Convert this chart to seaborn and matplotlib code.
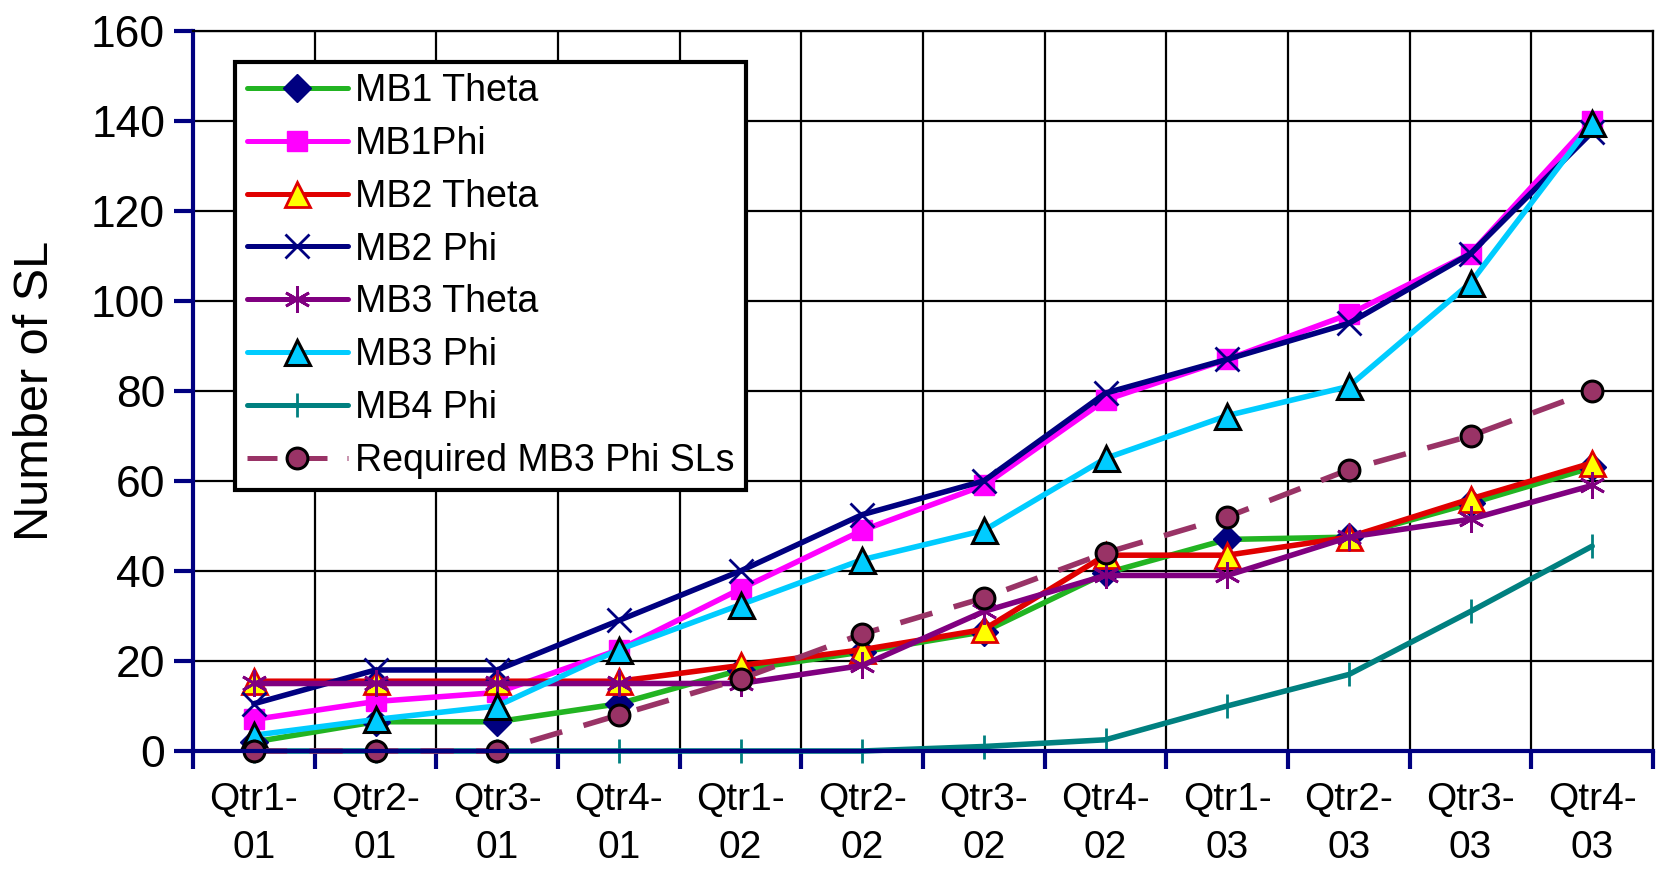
import pandas as pd
import matplotlib.pyplot as plt
import seaborn as sns
from matplotlib.ticker import FixedLocator

# quarters on the x axis
quarters = ['Qtr1-\n01', 'Qtr2-\n01', 'Qtr3-\n01', 'Qtr4-\n01',
            'Qtr1-\n02', 'Qtr2-\n02', 'Qtr3-\n02', 'Qtr4-\n02',
            'Qtr1-\n03', 'Qtr2-\n03', 'Qtr3-\n03', 'Qtr4-\n03']

mb1_theta = [2, 6.5, 6.5, 10.5, 18, 22, 26.5, 39.5, 47, 47.5, 55, 63]
mb1_phi = [7, 11, 13, 22.5, 36, 49, 59, 78, 87, 97, 110.5, 140]
mb2_theta = [15.5, 15.5, 15.5, 15.5, 19, 22.5, 27, 43.5, 43.5, 47.5, 56, 64]
mb2_phi = [10.5, 18, 18, 29, 40, 52.5, 60, 79.5, 87, 95, 110.5, 137.5]
mb3_theta = [15, 15, 15, 15, 15, 19, 31, 39, 39, 47.5, 51.5, 59]
mb3_phi = [3.5, 7, 10, 22.5, 32.5, 42.5, 49, 65, 74.5, 81, 104, 139.5]
mb4_phi = [0, 0, 0, 0, 0, 0, 1, 2.5, 10, 17, 31, 45.5]
required_mb3_phi = [0, 0, 0, 8, 16, 26, 34, 44, 52, 62.5, 70, 80]

series_names = ['MB1 Theta', 'MB1Phi', 'MB2 Theta', 'MB2 Phi',
                'MB3 Theta', 'MB3 Phi', 'MB4 Phi', 'Required MB3 Phi SLs']
series_values = [mb1_theta, mb1_phi, mb2_theta, mb2_phi,
                 mb3_theta, mb3_phi, mb4_phi, required_mb3_phi]

rows = []
for name, vals in zip(series_names, series_values):
    for q, v in zip(quarters, vals):
        rows.append({'Quarter': q, 'Series': name, 'SL': v})
df = pd.DataFrame(rows)

# line / marker style per series
styles = {
    'MB1 Theta': dict(color='#22B422', marker='D', markersize=14, mfc='#000080', mec='#000080'),
    'MB1Phi': dict(color='#FF00FF', marker='s', markersize=15, mfc='#FF00FF', mec='#FF00FF'),
    'MB2 Theta': dict(color='#E00000', marker='^', markersize=18, mfc='#FFFF00', mec='#E00000', mew=2),
    'MB2 Phi': dict(color='#000080', marker='x', markersize=17, mfc='#000080', mec='#000080', mew=2),
    'MB3 Theta': dict(color='#800080', marker=(6, 2, 0), markersize=19, mfc='#800080', mec='#800080', mew=2),
    'MB3 Phi': dict(color='#00CCFF', marker='^', markersize=18, mfc='#00CCFF', mec='black', mew=2.2),
    'MB4 Phi': dict(color='#008080', marker='|', markersize=17, mfc='#008080', mec='#008080', mew=2),
    'Required MB3 Phi SLs': dict(color='#993366', marker='o', markersize=15, mfc='#993366', mec='black', mew=2.2),
}

sns.set_style('white')
plt.rcParams['font.family'] = ['Liberation Sans', 'DejaVu Sans']
plt.rcParams['text.color'] = 'black'
plt.rcParams['axes.labelcolor'] = 'black'
plt.rcParams['xtick.labelcolor'] = 'black'
plt.rcParams['ytick.labelcolor'] = 'black'

fig = plt.figure(figsize=(16.64, 8.75), dpi=100)
ax = fig.add_axes([0.116, 0.1417, 0.8774, 0.8232])

for name in series_names:
    sub = df[df['Series'] == name]
    st = styles[name]
    sns.lineplot(data=sub, x='Quarter', y='SL', ax=ax, label=name,
                 color=st['color'], marker=st['marker'],
                 markersize=st['markersize'], markerfacecolor=st['mfc'],
                 markeredgecolor=st['mec'], markeredgewidth=st.get('mew', 1),
                 sort=False, clip_on=False)
    ln = ax.lines[-1]
    ln.set_linewidth(4)
    if name == 'Required MB3 Phi SLs':
        ln.set_dashes((6, 4))

ax.set_xlim(-0.5, 11.5)
ax.set_ylim(0, 160)
ax.set_yticks(range(0, 161, 20))
ax.tick_params(axis='y', labelsize=32, colors='#000080', labelcolor='black',
               direction='out', length=14, width=3, left=True, pad=6)
ax.xaxis.set_major_locator(FixedLocator(range(12)))
ax.set_xticks(range(12))
ax.set_xticklabels(quarters)
ax.xaxis.set_minor_locator(FixedLocator([i - 0.5 for i in range(13)]))
ax.tick_params(axis='x', which='major', length=0, labelsize=28, pad=22)
ax.tick_params(axis='x', which='minor', length=13, width=3, color='#000080', bottom=True)
for lbl in ax.get_xticklabels():
    lbl.set_linespacing(1.45)

ax.grid(True, axis='y', which='major', color='black', linewidth=1.6)
ax.grid(True, axis='x', which='minor', color='black', linewidth=1.6)
ax.grid(False, axis='x', which='major')
ax.set_axisbelow(True)

ax.spines['left'].set_color('#000080')
ax.spines['left'].set_linewidth(3)
ax.spines['bottom'].set_color('#000080')
ax.spines['bottom'].set_linewidth(3)
ax.spines['top'].set_color('black')
ax.spines['top'].set_linewidth(1.6)
ax.spines['right'].set_color('black')
ax.spines['right'].set_linewidth(1.6)

ax.set_xlabel('')
ax.set_ylabel('Number of SL', fontsize=35, labelpad=24)

leg = ax.legend(loc='upper left', bbox_to_anchor=(0.029, 0.957), borderaxespad=0,
                fontsize=27, frameon=True, fancybox=False, framealpha=1,
                edgecolor='black', handlelength=2.7, handletextpad=0.2,
                labelspacing=0.45, borderpad=0.3)
leg.get_frame().set_linewidth(3)
for h in leg.get_lines():
    h.set_linewidth(3.6)

fig.savefig('out.png', dpi=100)
